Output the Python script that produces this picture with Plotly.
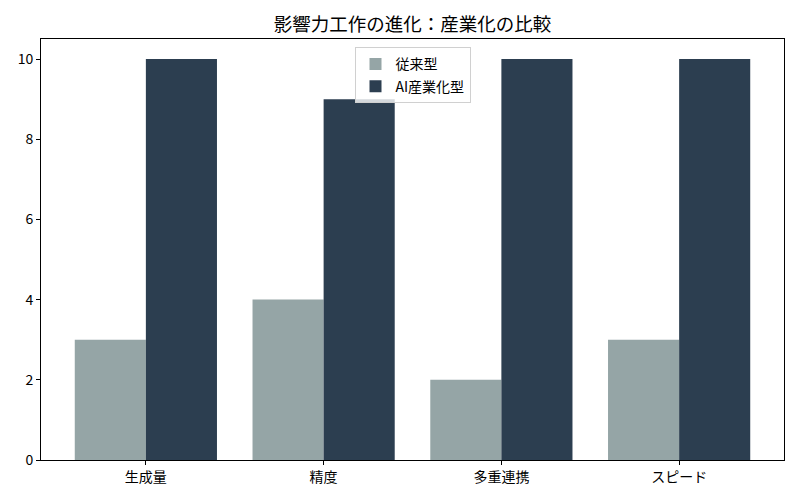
import plotly.graph_objects as go

# Chart data
categories = ['生成量', '精度', '多重連携', 'スピード']
traditional = [3, 4, 2, 3]
ai_industrial = [10, 9, 10, 10]
series_names = ['従来型', 'AI産業化型']

font_family = 'Noto Sans CJK JP, sans-serif'
x_pos = list(range(len(categories)))

fig = go.Figure()
fig.add_trace(go.Bar(x=[x - 0.2 for x in x_pos], y=traditional, width=0.4,
                     name=series_names[0], legendgroup='a',
                     marker_color='#95a5a6', marker_line_width=0))
fig.add_trace(go.Bar(x=[x + 0.2 for x in x_pos], y=ai_industrial, width=0.4,
                     name=series_names[1], legendgroup='b',
                     marker_color='#2c3e50', marker_line_width=0))

fig.update_layout(
    width=800, height=500,
    margin=dict(l=41, r=16, t=39, b=40),
    paper_bgcolor='white', plot_bgcolor='white',
    font=dict(family=font_family, size=14, color='black'),
    title=dict(text='影響力工作の進化：産業化の比較', x=0.5, xref='paper', xanchor='center',
               y=1 - 25 / 500, yanchor='middle', font=dict(size=18.5)),
    barmode='overlay',
    legend=dict(x=0.5, xanchor='center', y=0.98, yanchor='top',
                bgcolor='rgba(255,255,255,0.8)', bordercolor='#d0d0d0', borderwidth=1,
                font=dict(size=14), tracegroupgap=1),
    showlegend=True,
)
fig.update_xaxes(range=[-0.59, 3.59], tickvals=x_pos, ticktext=categories,
                 showline=True, linecolor='black', linewidth=1, mirror=True,
                 ticks='outside', ticklen=4, tickcolor='black', showgrid=False,
                 zeroline=False, automargin=False)
fig.update_yaxes(range=[0, 10.5], tickvals=[0, 2, 4, 6, 8, 10],
                 showline=True, linecolor='black', linewidth=1, mirror=True,
                 ticks='outside', ticklen=4, tickcolor='black', showgrid=False,
                 zeroline=False, automargin=False)

fig.write_html('out.html', config={'displayModeBar': False},
               post_script="document.body.style.margin='0';")
